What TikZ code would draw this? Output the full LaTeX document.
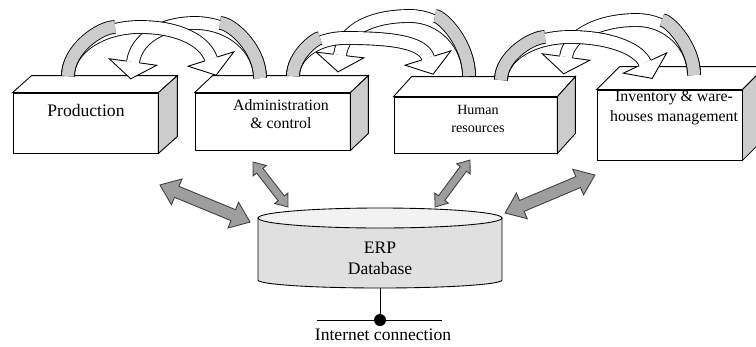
\documentclass[tikz,border=0pt]{standalone}
\usepackage{fontspec}
\setmainfont{Liberation Serif}
\usetikzlibrary{calc,shapes.arrows}

\definecolor{sidegray}{gray}{0.8}
\definecolor{dbbody}{gray}{0.88}
\definecolor{dbtop}{gray}{0.95}
\definecolor{dblgray}{gray}{0.62}

% caixa 3D: nome, dx, dy
\newcommand{\cuboid}[3]{%
  \draw[boxline, fill=white] (#1.north west) -- ++(#2,#3) -- ($(#1.north east)+(#2,#3)$) -- (#1.north east) -- cycle;
  \draw[boxline, fill=sidegray] (#1.north east) -- ++(#2,#3) -- ($(#1.south east)+(#2,#3)$) -- (#1.south east) -- cycle;}
% ponta da fita: base, angulo
\newcommand{\ribhead}[2]{%
  \filldraw[boxline, fill=white, shift={(#1)}, rotate=#2] (0,6.5) -- (0,24) -- (17,0) -- (0,-24) -- (0,-6.5);}

\begin{document}
\begin{tikzpicture}[x=0.02cm, y=0.02cm,
  boxline/.style={line width=0.5pt},
  box/.style={draw, fill=white, inner sep=0pt, line width=0.5pt},
  ribgray/.style={line width=0.5pt, double=sidegray, double distance=0.24cm, shorten >=0.5cm},
  ribwhite/.style={line width=0.5pt, double=white, double distance=0.24cm},
  dblarrow/.style={double arrow, draw=black!75, fill=dblgray, inner xsep=0pt, line width=0.5pt, double arrow tip angle=75},
  bigdbl/.style={minimum height=1.95cm, inner ysep=0.11cm, double arrow head extend=0.16cm},
  smalldbl/.style={minimum height=1.14cm, inner ysep=0.07cm, double arrow head extend=0.09cm}]
\useasboundingbox (0,0) rectangle (756,346);
\clip (0,0) rectangle (756,346);

% Modulos
\node[box, minimum width=2.9cm, minimum height=1.2cm] (prod) at (85.5,223) {};
\cuboid{prod}{19}{17}
\node[box, minimum width=3.1cm, minimum height=1.14cm] (adm) at (272.5,224.5) {};
\cuboid{adm}{18}{17}
\node[box, minimum width=3.26cm, minimum height=1.12cm] (hr) at (475.5,221) {};
\cuboid{hr}{18}{20}
\node[box, minimum width=2.9cm, minimum height=1.4cm] (inv) at (669.5,221) {};
\cuboid{inv}{23}{23}

% Textos
\node[font=\fontsize{10}{12}\selectfont] (prodT) at (86,236) {Production};
\node[align=center, font=\fontsize{9}{10.3}\selectfont] (admT) at (281,232) {Administration\\\& control};
\node[align=center, font=\fontsize{8}{10.3}\selectfont] (hrT) at (478,227) {Human\\resources};
\node[align=center, font=\fontsize{9}{11.3}\selectfont] (invT) at (674,238) {Inventory \& ware-\\houses management};

% Fitas entre modulos
\coordinate (p1a) at (68,270);  \coordinate (p1ae) at (211,287);
\coordinate (p1b) at (260,268); \coordinate (p1be) at (133,284);
\coordinate (p2a) at (293,270); \coordinate (p2ae) at (428,288);
\coordinate (p2b) at (469,270); \coordinate (p2be) at (340,291);
\coordinate (p3a) at (501,266); \coordinate (p3ae) at (645,283);
\coordinate (p3b) at (694,271); \coordinate (p3be) at (566,289);

\draw[ribwhite] (p1b) .. controls (260,298) and (231,323) .. (195,323) .. controls (160,323) and (136,306) .. (p1be);
\draw[ribgray] (p1b) .. controls (260,298) and (231,323) .. (195,323);
\ribhead{p1be}{-97.8}
\draw[ribwhite] (p1a) .. controls (68,297) and (100,319) .. (140,319) .. controls (179,319) and (205,305) .. (p1ae);
\draw[ribgray] (p1a) .. controls (68,297) and (100,319) .. (140,319);
\ribhead{p1ae}{-72.5}

\draw[ribwhite] (p2b) .. controls (469,303) and (442,330) .. (410,330) .. controls (371,330) and (343,316) .. (p2be);
\draw[ribgray] (p2b) .. controls (469,303) and (442,330) .. (410,330);
\ribhead{p2be}{-96.8}
\draw[ribwhite] (p2a) .. controls (293,291) and (316,308) .. (345,308) .. controls (391,308) and (423,304) .. (p2ae);
\draw[ribgray] (p2a) .. controls (293,291) and (316,308) .. (345,308);
\ribhead{p2ae}{-72.6}

\draw[ribwhite] (p3b) .. controls (694,301) and (668,326) .. (637,326) .. controls (599,326) and (569,311) .. (p3be);
\draw[ribgray] (p3b) .. controls (694,301) and (668,326) .. (637,326);
\ribhead{p3be}{-97.8}
\draw[ribwhite] (p3a) .. controls (501,290) and (532,309) .. (570,309) .. controls (608,309) and (638,298) .. (p3ae);
\draw[ribgray] (p3a) .. controls (501,290) and (532,309) .. (570,309);
\ribhead{p3ae}{-65}

% Banco de dados
\draw[boxline, fill=dbbody] (258,128) -- (258,66) arc[start angle=180, end angle=360, x radius=122, y radius=8] -- (502,128) -- cycle;
\draw[boxline, fill=dbtop] (380,128) ellipse [x radius=122, y radius=10];
\node[align=center, font=\fontsize{10}{12.2}\selectfont] (db) at (380,87.5) {ERP\\Database};

% Setas duplas
\node[dblarrow, bigdbl, rotate=-22.4] (a1) at (205,142.5) {};
\node[dblarrow, smalldbl, rotate=-52.1] (a2) at (270.5,161.5) {};
\node[dblarrow, smalldbl, rotate=53.3, minimum height=1.17cm] (a3) at (452.5,162.5) {};
\node[dblarrow, bigdbl, rotate=22.9] (a4) at (550,152) {};

% Internet
\coordinate (dbb) at (380,58);
\node[circle, fill=black, inner sep=0pt, minimum size=0.24cm] (inet) at (380,26) {};
\coordinate (netl) at (317,26);
\coordinate (netr) at (442,26);
\draw[boxline] (dbb) -- (inet);
\draw[boxline] (netl) -- (netr);
\node[font=\fontsize{10}{12}\selectfont] (inetT) at (383,11) {Internet connection};
\end{tikzpicture}
\end{document}
